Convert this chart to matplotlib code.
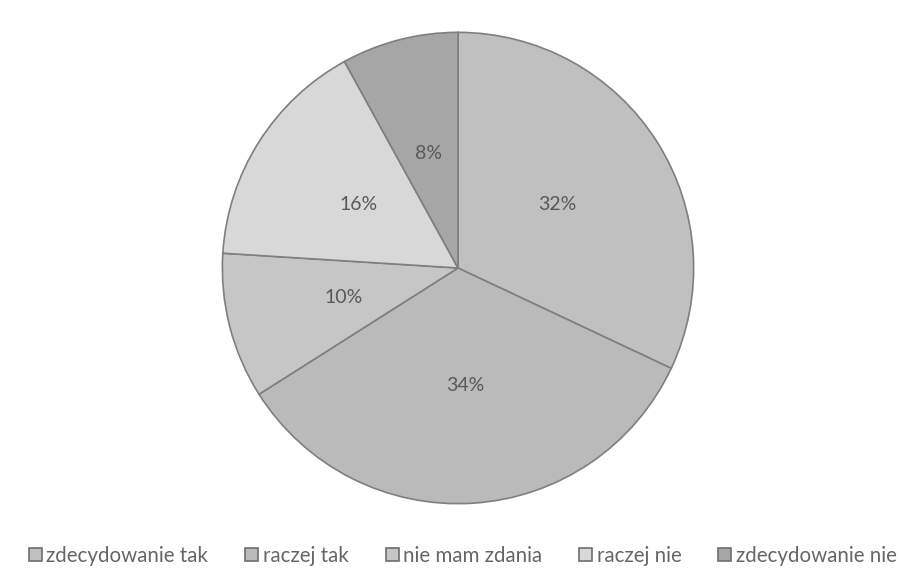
import matplotlib
matplotlib.use('Agg')
import matplotlib.pyplot as plt

labels = ['zdecydowanie tak', 'raczej tak', 'nie mam zdania', 'raczej nie', 'zdecydowanie nie']
values = [32, 34, 10, 16, 8]
colors = ['#c0c0c0', '#bababa', '#c6c6c6', '#d8d8d8', '#a6a6a6']

plt.rcParams['font.family'] = ['Lato', 'DejaVu Sans']

W, H = 902, 587
fig = plt.figure(figsize=(W / 100, H / 100), dpi=100)
cx, cy, r = 458, 268, 238
ax = fig.add_axes([(cx - r) / W, (H - cy - r) / H, 2 * r / W, 2 * r / H])

wedges, texts, autotexts = ax.pie(
    values, colors=colors, startangle=90, counterclock=False, radius=1,
    autopct='%d%%', pctdistance=0.5,
    wedgeprops=dict(edgecolor='#7f7f7f', linewidth=1.2),
    textprops=dict(color='#595959', fontsize=14))
ax.set_xlim(-1.01, 1.01)
ax.set_ylim(-1.01, 1.01)
ax.set_aspect('equal')
ax.axis('off')

leg = fig.legend(wedges, labels, loc='center left', bbox_to_anchor=(29 / W, 1 - 556 / H),
                 ncol=5, frameon=False, fontsize=14.8, handlelength=0.63, handleheight=0.63,
                 handletextpad=0.22, columnspacing=1.8, borderpad=0, borderaxespad=0)
for t in leg.get_texts():
    t.set_color('#666666')
for h in leg.legend_handles:
    h.set_edgecolor('#6e6e6e')

fig.savefig('out.png', dpi=100)
